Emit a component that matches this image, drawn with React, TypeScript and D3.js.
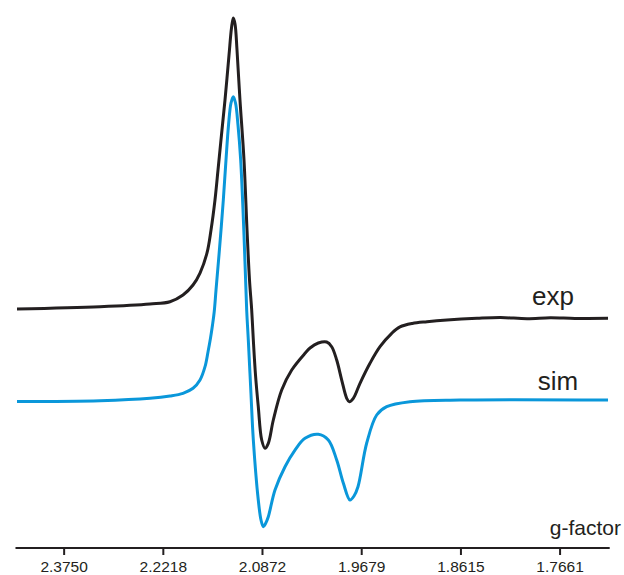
import React from "react";
import * as d3 from "d3";

// g-factor tick labels (field B = K / g, K at the spectrometer frequency)
const gTicks = [2.375, 2.2218, 2.0872, 1.9679, 1.8615, 1.7661];
const K_FIELD = 688.77; // mT * g

// Experimental spectrum: field (mT) and intensity (a.u.)
const expField = [280.5, 297.24, 307.32, 311.35, 313.97, 315.99, 317.4, 318.81, 319.62, 320.42, 321.03, 321.43, 321.83, 322.44, 323.25, 323.75, 324.11, 324.46, 324.86, 325.46, 326.27, 326.88, 327.38, 327.82, 328.15, 328.59, 329.15, 329.84, 330.5, 331.17, 332.18, 333.87, 335.89, 338.57, 339.58, 341.25, 342.94, 343.95, 344.96, 345.97, 346.98, 347.5, 348.31, 349.66, 351.67, 353.69, 356.05, 357.72, 360.2, 363.17, 367.2, 373.25, 378.0, 383.33, 388.0, 393.0, 399.66];
const expValue = [0.0, 0.76, 1.65, 2.41, 4.62, 7.92, 11.87, 18.47, 26.05, 35.94, 45.83, 52.43, 59.02, 68.91, 83.75, 92.65, 95.95, 93.97, 85.4, 68.9, 49.13, 26.05, 9.56, -0.33, -10.22, -21.76, -32.21, -43.19, -45.92, -44.28, -36.59, -26.7, -20.11, -14.6, -12.86, -11.21, -10.88, -12.43, -16.81, -23.41, -29.44, -30.56, -29.44, -24.49, -17.9, -12.43, -8.01, -5.9, -4.75, -4.18, -3.62, -3.06, -2.8, -3.2, -2.9, -3.1, -3.06];

// Simulated spectrum
const simField = [280.5, 297.24, 307.32, 311.35, 313.97, 315.99, 317.4, 318.41, 319.01, 319.52, 319.92, 320.26, 320.63, 321.23, 322.1, 322.64, 323.15, 323.65, 324.11, 324.56, 325.06, 325.6, 326.27, 326.81, 327.14, 327.64, 328.15, 329.15, 329.7, 330.16, 330.62, 331.17, 332.52, 334.54, 336.55, 338.57, 341.25, 343.27, 344.96, 346.29, 347.64, 348.45, 349.25, 351.01, 353.02, 355.04, 359.74, 369.82, 399.66];
const simValue = [-0.5, -0.23, 0.56, 1.32, 2.21, 3.86, 6.59, 10.98, 15.83, 20.44, 24.73, 29.01, 36.27, 47.81, 65.94, 79.13, 90.67, 97.92, 100, 97.92, 90.67, 79.13, 54.4, 29.67, 19.78, 3.3, -13.19, -32.97, -39.56, -41.77, -40.72, -38.48, -29.67, -21.99, -16.49, -12.63, -11.31, -13.19, -19.78, -27.37, -32.97, -31.65, -28.59, -14.18, -4.95, -2.21, -0.56, 0, 0];

const EXP_OFFSET = 30;
const BLUE = "#0a97da";
const BLACK = "#231f20";

export default function App() {
  const W = 624, H = 575;
  const x = d3.scaleLinear().domain([280, 400]).range([14.5, 609.7]);
  const y = d3.scaleLinear().domain([0, 100]).range([400, 96.7]);
  const axisY = 548;

  const line = d3
    .line<[number, number]>()
    .x((d) => x(d[0]))
    .y((d) => y(d[1]))
    .curve(d3.curveCatmullRom.alpha(0.5));

  const expPts: [number, number][] = expField.map((f, i) => [f, expValue[i] + EXP_OFFSET]);
  const simPts: [number, number][] = simField.map((f, i) => [f, simValue[i]]);

  const font = "'Liberation Sans', Arial, Helvetica, sans-serif";

  return (
    <svg
      width={W}
      height={H}
      style={{ position: "absolute", left: 0, top: 0, background: "#fff" }}
      fontFamily={font}
    >
      <path d={line(expPts) || ""} fill="none" stroke={BLACK} strokeWidth={3} strokeLinejoin="round" />
      <path d={line(simPts) || ""} fill="none" stroke={BLUE} strokeWidth={3} strokeLinejoin="round" />

      <text x={553} y={305} fontSize={26} textAnchor="middle" fill={BLACK}>exp</text>
      <text x={558} y={390} fontSize={26} textAnchor="middle" fill={BLACK}>sim</text>

      <line x1={x(280.2)} x2={x(400)} y1={axisY} y2={axisY} stroke={BLACK} strokeWidth={2} />
      {gTicks.map((g) => {
        const px = x(K_FIELD / g);
        return (
          <g key={g}>
            <line x1={px} x2={px} y1={axisY} y2={axisY + 7} stroke={BLACK} strokeWidth={2} />
            <text x={px} y={572} fontSize={15.5} textAnchor="middle" fill={BLACK}>
              {g.toFixed(4)}
            </text>
          </g>
        );
      })}
      <text x={621} y={535} fontSize={21} textAnchor="end" fill={BLACK}>g-factor</text>
    </svg>
  );
}
